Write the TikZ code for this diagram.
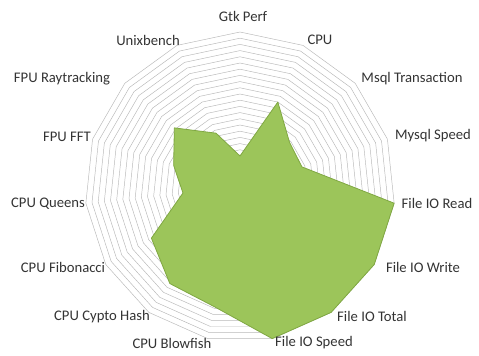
\documentclass[tikz,border=0pt]{standalone}
\usepackage{fontspec}
\setmainfont{Carlito}
\usetikzlibrary{calc}
\definecolor{radargreen}{RGB}{156,197,90}
\definecolor{radaredge}{RGB}{128,168,66}
\begin{document}
\begin{tikzpicture}[x=0.75pt,y=-0.75pt,
  lbl/.style={font=\fontsize{11}{13}\selectfont, text=black!80, inner sep=0pt},
  ring/.style={draw=black!28, line width=0.35pt},
  datafill/.style={fill=radargreen, draw=radaredge, line width=0.6pt, line join=round},
  shadowfill/.style={fill=black!30, opacity=0.45}]
\useasboundingbox (0,0) rectangle (479,356);
\coordinate (O) at (240,187);
% grid rings
\foreach \k in {1,...,25}{
  \pgfmathsetmacro\r{\k*6.2}
  \draw[ring, shift={(O)}] (-90:\r) \foreach \i in {1,...,14}{ -- ({24*\i-90}:\r)} -- cycle;
}
% data points
\foreach \v [count=\i from 0] in {0.2,0.6,0.43,0.42,1,1,1,1,0.79,0.77,0.66,0.37,0.45,0.57,0.38}{
  \coordinate (p\i) at ($(O)+({24*\i-90}:{155*\v})$);
}
\fill[shadowfill, shift={(2,3)}] (p0) -- (p1) -- (p2) -- (p3) -- (p4) -- (p5) -- (p6) -- (p7) -- (p8) -- (p9) -- (p10) -- (p11) -- (p12) -- (p13) -- (p14) -- cycle;
\path[datafill] (p0) -- (p1) -- (p2) -- (p3) -- (p4) -- (p5) -- (p6) -- (p7) -- (p8) -- (p9) -- (p10) -- (p11) -- (p12) -- (p13) -- (p14) -- cycle;
% labels
\node[lbl] (l0) at (243,16) {Gtk Perf};
\node[lbl] (l1) at (320,40) {CPU};
\node[lbl] (l2) at (412,79) {Msql Transaction};
\node[lbl] (l3) at (433,136) {Mysql Speed};
\node[lbl] (l4) at (437,203) {File IO Read};
\node[lbl] (l5) at (423,267) {File IO Write};
\node[lbl] (l6) at (372,316) {File IO Total};
\node[lbl] (l7) at (314,343) {File IO Speed};
\node[lbl] (l8) at (172,343) {CPU Blowfish};
\node[lbl] (l9) at (102,317) {CPU Cypto Hash};
\node[lbl] (l10) at (63,267) {CPU Fibonacci};
\node[lbl] (l11) at (48,204) {CPU Queens};
\node[lbl] (l12) at (67,137) {FPU FFT};
\node[lbl] (l13) at (62,79) {FPU Raytracking};
\node[lbl] (l14) at (148,40) {Unixbench};
\end{tikzpicture}
\end{document}
